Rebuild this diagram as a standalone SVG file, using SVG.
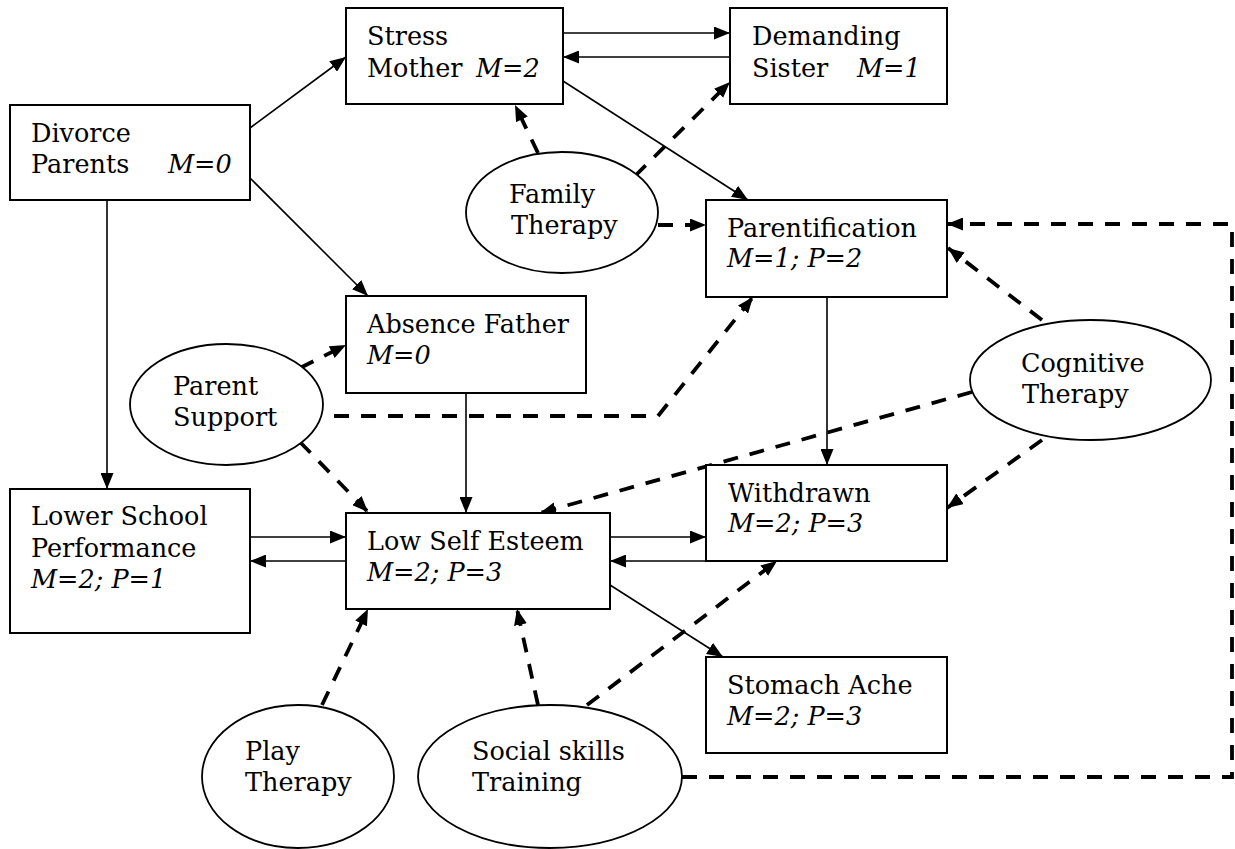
<svg xmlns="http://www.w3.org/2000/svg" width="1235" height="849" viewBox="0 0 1235 849">
  <defs>
    <marker id="ah" markerUnits="userSpaceOnUse" markerWidth="17" markerHeight="13" refX="16" refY="6.5" orient="auto">
      <path d="M0,0 L16,6.5 L0,13 z" fill="#000"/>
    </marker>
    <style>
      .box { fill: #fff; stroke: #000; stroke-width: 2; }
      .oval { fill: #fff; stroke: #000; stroke-width: 1.8; }
      .t { font-family: "DejaVu Serif", "Liberation Serif", serif; font-size: 25.5px; fill: #000; }
      .i { font-style: italic; }
      .solid { fill: none; stroke: #000; stroke-width: 1.6; marker-end: url(#ah); }
      .dash { fill: none; stroke: #000; stroke-width: 3.8; stroke-dasharray: 15 12; marker-end: url(#ah); }
    </style>
  </defs>
  <rect width="1235" height="849" fill="#fff"/>

  <!-- connectors -->
  <g id="connectors">
    <!-- causal links -->
    <path class="solid" d="M250,128 L346,57"/>
    <path class="solid" d="M250,178 L368,296"/>
    <path class="solid" d="M107,200 L107,489"/>
    <path class="solid" d="M563,33 L730,33"/>
    <path class="solid" d="M730,57 L563,57"/>
    <path class="solid" d="M563,81 L748,200"/>
    <path class="solid" d="M827,297 L827,465"/>
    <path class="solid" d="M466,393 L466,513"/>
    <path class="solid" d="M250,537 L346,537"/>
    <path class="solid" d="M346,561 L250,561"/>
    <path class="solid" d="M610,537 L706,537"/>
    <path class="solid" d="M706,561 L610,561"/>
    <path class="solid" d="M610,585 L723,657"/>
    <!-- interventions -->
    <path class="dash" d="M538,153 L515,105"/>
    <path class="dash" d="M635,176 L730,82"/>
    <path class="dash" d="M658,225 L706,225"/>
    <path class="dash" d="M300,368 L346,345"/>
    <path class="dash" d="M300,442 L368,512"/>
    <path class="dash" d="M334,416 L658,416 L753,297"/>
    <path class="dash" d="M1042,320 L948,248"/>
    <path class="dash" d="M972,392 L540,513"/>
    <path class="dash" d="M1042,440 L947,508"/>
    <path class="dash" d="M322,705 L368,609"/>
    <path class="dash" d="M538,705 L517,609"/>
    <path class="dash" d="M587,705 L777,561"/>
    <path class="dash" d="M682,777 L1232,777 L1232,224 L947,224"/>
  </g>

  <!-- problem nodes -->
  <g id="divorce-parents">
    <rect class="box" x="10" y="105" width="240" height="95"/>
    <text class="t" x="31" y="142">Divorce</text>
    <text class="t" x="31" y="173">Parents</text>
    <text class="t i" x="168" y="173">M=0</text>
  </g>
  <g id="stress-mother">
    <rect class="box" x="346" y="8" width="217" height="96"/>
    <text class="t" x="367" y="45">Stress</text>
    <text class="t" x="367" y="77">Mother</text>
    <text class="t i" x="476" y="77">M=2</text>
  </g>
  <g id="demanding-sister">
    <rect class="box" x="730" y="8" width="217" height="96"/>
    <text class="t" x="752" y="45">Demanding</text>
    <text class="t" x="752" y="77">Sister</text>
    <text class="t i" x="857" y="77">M=1</text>
  </g>
  <g id="parentification">
    <rect class="box" x="706" y="200" width="241" height="97"/>
    <text class="t" x="727" y="237">Parentification</text>
    <text class="t i" x="727" y="267">M=1; P=2</text>
  </g>
  <g id="absence-father">
    <rect class="box" x="346" y="296" width="240" height="97"/>
    <text class="t" x="367" y="333">Absence Father</text>
    <text class="t i" x="367" y="364">M=0</text>
  </g>
  <g id="lower-school-performance">
    <rect class="box" x="10" y="489" width="240" height="144"/>
    <text class="t" x="31" y="525">Lower School</text>
    <text class="t" x="31" y="557">Performance</text>
    <text class="t i" x="31" y="588">M=2; P=1</text>
  </g>
  <g id="low-self-esteem">
    <rect class="box" x="346" y="513" width="264" height="96"/>
    <text class="t" x="367" y="550">Low Self Esteem</text>
    <text class="t i" x="367" y="581">M=2; P=3</text>
  </g>
  <g id="withdrawn">
    <rect class="box" x="706" y="465" width="241" height="96"/>
    <text class="t" x="728" y="502">Withdrawn</text>
    <text class="t i" x="728" y="532">M=2; P=3</text>
  </g>
  <g id="stomach-ache">
    <rect class="box" x="706" y="657" width="241" height="96"/>
    <text class="t" x="727" y="694">Stomach Ache</text>
    <text class="t i" x="727" y="725">M=2; P=3</text>
  </g>

  <!-- intervention nodes -->
  <g id="family-therapy">
    <ellipse class="oval" cx="562" cy="212.5" rx="96" ry="60.5"/>
    <text class="t" x="509" y="203">Family</text>
    <text class="t" x="511" y="234">Therapy</text>
  </g>
  <g id="parent-support">
    <ellipse class="oval" cx="226.5" cy="404.5" rx="96.5" ry="60.5"/>
    <text class="t" x="173" y="395">Parent</text>
    <text class="t" x="173" y="426">Support</text>
  </g>
  <g id="cognitive-therapy">
    <ellipse class="oval" cx="1090.5" cy="380" rx="120.5" ry="60"/>
    <text class="t" x="1021" y="372">Cognitive</text>
    <text class="t" x="1022" y="403">Therapy</text>
  </g>
  <g id="play-therapy">
    <ellipse class="oval" cx="298" cy="776.5" rx="96" ry="71.5"/>
    <text class="t" x="245" y="760">Play</text>
    <text class="t" x="245" y="791">Therapy</text>
  </g>
  <g id="social-skills-training">
    <ellipse class="oval" cx="550" cy="776.5" rx="132" ry="71.5"/>
    <text class="t" x="472" y="760">Social skills</text>
    <text class="t" x="472" y="791">Training</text>
  </g>
</svg>
